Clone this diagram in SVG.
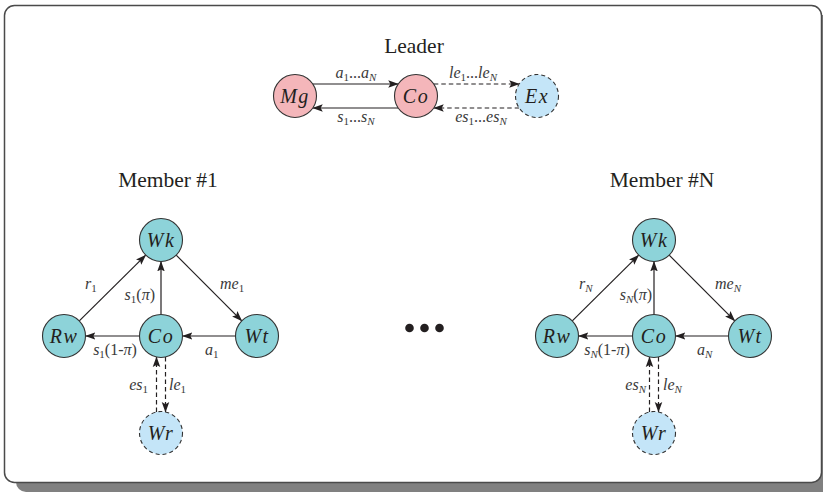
<svg xmlns="http://www.w3.org/2000/svg" width="823" height="496" viewBox="0 0 823 496">
  <style>
    text { fill: #231f20; font-family: "Liberation Serif", "Times New Roman", serif; }
    .title { font-size: 21.5px; text-anchor: middle; }
    .node { font-size: 20px; font-style: italic; text-anchor: middle; letter-spacing: 1.5px; }
    .el { font-size: 16px; font-style: italic; fill: #3a3a3a; }
    .sub { font-size: 11px; }
    .up { font-style: normal; }
    .edge { stroke: #231f20; stroke-width: 1.2; fill: none; }
    .dash { stroke-dasharray: 4.5 3; }
    circle.n { stroke: #333; stroke-width: 1.1; }
    .pink { fill: #f4b6ba; }
    .teal { fill: #8dd3d9; }
    .ext { fill: #c4e5f8; stroke-dasharray: 4 3; }
  </style>
  <defs>
    <marker id="tip" viewBox="0 0 10 8" refX="9.5" refY="4" markerWidth="10.5" markerHeight="8.4" markerUnits="userSpaceOnUse" orient="auto">
      <path d="M0,0.4 L10,4 L0,7.6 L2,4 z" fill="#231f20"/>
    </marker>
  </defs>

  <!-- frame with drop shadow -->
  <rect x="16" y="15" width="817" height="477" rx="10" fill="#808080"/>
  <rect x="4.5" y="5.5" width="817" height="477" rx="10" fill="#fff" stroke="#4a4a4a" stroke-width="1.5"/>

  <!-- titles -->
  <text class="title" x="414" y="53">Leader</text>
  <text class="title" x="168" y="187">Member #1</text>
  <text class="title" x="662" y="187">Member #N</text>

  <!-- connectors -->
  <g id="connectors">
    <!-- leader -->
    <line class="edge" x1="312.8" y1="84" x2="398.2" y2="84" marker-end="url(#tip)"/>
    <line class="edge" x1="398.2" y1="108" x2="312.8" y2="108" marker-end="url(#tip)"/>
    <line class="edge dash" x1="433.8" y1="84" x2="519.2" y2="84" marker-end="url(#tip)"/>
    <line class="edge dash" x1="519.2" y1="108" x2="433.8" y2="108" marker-end="url(#tip)"/>
    <!-- member 1 -->
    <g id="m1-edges">
      <line class="edge" x1="79.3" y1="320.9" x2="145.7" y2="255.1" marker-end="url(#tip)"/>
      <line class="edge" x1="161" y1="314.5" x2="161" y2="261.5" marker-end="url(#tip)"/>
      <line class="edge" x1="176.2" y1="255.2" x2="241.8" y2="320.8" marker-end="url(#tip)"/>
      <line class="edge" x1="139.5" y1="336" x2="85.5" y2="336" marker-end="url(#tip)"/>
      <line class="edge" x1="235.5" y1="336" x2="182.5" y2="336" marker-end="url(#tip)"/>
      <line class="edge dash" x1="156.5" y1="412" x2="156.5" y2="357" marker-end="url(#tip)"/>
      <line class="edge dash" x1="165.5" y1="357" x2="165.5" y2="412" marker-end="url(#tip)"/>
    </g>
    <!-- member N -->
    <g id="mN-edges" transform="translate(493,0)">
      <line class="edge" x1="79.3" y1="320.9" x2="145.7" y2="255.1" marker-end="url(#tip)"/>
      <line class="edge" x1="161" y1="314.5" x2="161" y2="261.5" marker-end="url(#tip)"/>
      <line class="edge" x1="176.2" y1="255.2" x2="241.8" y2="320.8" marker-end="url(#tip)"/>
      <line class="edge" x1="139.5" y1="336" x2="85.5" y2="336" marker-end="url(#tip)"/>
      <line class="edge" x1="235.5" y1="336" x2="182.5" y2="336" marker-end="url(#tip)"/>
      <line class="edge dash" x1="156.5" y1="412" x2="156.5" y2="357" marker-end="url(#tip)"/>
      <line class="edge dash" x1="165.5" y1="357" x2="165.5" y2="412" marker-end="url(#tip)"/>
    </g>
  </g>

  <!-- connector labels -->
  <g id="labels">
    <text class="el" x="356" y="78" text-anchor="middle">a<tspan class="sub up" dy="3">1</tspan><tspan class="up" dy="-3">...</tspan>a<tspan class="sub" dy="3">N</tspan></text>
    <text class="el" x="356" y="122" text-anchor="middle">s<tspan class="sub up" dy="3">1</tspan><tspan class="up" dy="-3">...</tspan>s<tspan class="sub" dy="3">N</tspan></text>
    <text class="el" x="473" y="78" text-anchor="middle">le<tspan class="sub up" dy="3">1</tspan><tspan class="up" dy="-3">...</tspan>le<tspan class="sub" dy="3">N</tspan></text>
    <text class="el" x="481" y="122" text-anchor="middle">es<tspan class="sub up" dy="3">1</tspan><tspan class="up" dy="-3">...</tspan>es<tspan class="sub" dy="3">N</tspan></text>

    <text class="el" x="85" y="289">r<tspan class="sub up" dy="3">1</tspan></text>
    <text class="el" x="155" y="300" text-anchor="end">s<tspan class="sub up" dy="3">1</tspan><tspan class="up" dy="-3">(</tspan>π<tspan class="up">)</tspan></text>
    <text class="el" x="220" y="289">me<tspan class="sub up" dy="3">1</tspan></text>
    <text class="el" x="115" y="355" text-anchor="middle">s<tspan class="sub up" dy="3">1</tspan><tspan class="up" dy="-3">(1-</tspan>π<tspan class="up">)</tspan></text>
    <text class="el" x="205" y="355">a<tspan class="sub up" dy="3">1</tspan></text>
    <text class="el" x="148" y="390" text-anchor="end">es<tspan class="sub up" dy="3">1</tspan></text>
    <text class="el" x="169" y="390">le<tspan class="sub up" dy="3">1</tspan></text>

    <text class="el" x="579" y="289">r<tspan class="sub" dy="3">N</tspan></text>
    <text class="el" x="652" y="300" text-anchor="end">s<tspan class="sub" dy="3">N</tspan><tspan class="up" dy="-3">(</tspan>π<tspan class="up">)</tspan></text>
    <text class="el" x="715" y="289">me<tspan class="sub" dy="3">N</tspan></text>
    <text class="el" x="607" y="355" text-anchor="middle">s<tspan class="sub" dy="3">N</tspan><tspan class="up" dy="-3">(1-</tspan>π<tspan class="up">)</tspan></text>
    <text class="el" x="697" y="355">a<tspan class="sub" dy="3">N</tspan></text>
    <text class="el" x="646" y="390" text-anchor="end">es<tspan class="sub" dy="3">N</tspan></text>
    <text class="el" x="663" y="390">le<tspan class="sub" dy="3">N</tspan></text>
  </g>

  <!-- leader nodes -->
  <g id="leader-mg"><circle class="n pink" cx="295" cy="96" r="21.5"/><text class="node" x="295" y="102.5">Mg</text></g>
  <g id="leader-co"><circle class="n pink" cx="416" cy="96" r="21.5"/><text class="node" x="416" y="102.5">Co</text></g>
  <g id="leader-ex"><circle class="n ext" cx="537" cy="96" r="21.5"/><text class="node" x="537" y="102.5">Ex</text></g>

  <!-- member 1 nodes -->
  <g id="m1-wk"><circle class="n teal" cx="161" cy="240" r="21.5"/><text class="node" x="161" y="246.5">Wk</text></g>
  <g id="m1-rw"><circle class="n teal" cx="64" cy="336" r="21.5"/><text class="node" x="64" y="342.5">Rw</text></g>
  <g id="m1-co"><circle class="n teal" cx="161" cy="336" r="21.5"/><text class="node" x="161" y="342.5">Co</text></g>
  <g id="m1-wt"><circle class="n teal" cx="257" cy="336" r="21.5"/><text class="node" x="257" y="342.5">Wt</text></g>
  <g id="m1-wr"><circle class="n ext" cx="161" cy="433" r="21.5"/><text class="node" x="161" y="439.5">Wr</text></g>

  <!-- member N nodes -->
  <g id="mN-wk"><circle class="n teal" cx="654" cy="240" r="21.5"/><text class="node" x="654" y="246.5">Wk</text></g>
  <g id="mN-rw"><circle class="n teal" cx="557" cy="336" r="21.5"/><text class="node" x="557" y="342.5">Rw</text></g>
  <g id="mN-co"><circle class="n teal" cx="654" cy="336" r="21.5"/><text class="node" x="654" y="342.5">Co</text></g>
  <g id="mN-wt"><circle class="n teal" cx="750" cy="336" r="21.5"/><text class="node" x="750" y="342.5">Wt</text></g>
  <g id="mN-wr"><circle class="n ext" cx="654" cy="433" r="21.5"/><text class="node" x="654" y="439.5">Wr</text></g>

  <!-- ellipsis between members -->
  <g id="ellipsis" fill="#231f20">
    <circle cx="409.5" cy="328" r="4.3"/>
    <circle cx="424.5" cy="328" r="4.3"/>
    <circle cx="439.5" cy="328" r="4.3"/>
  </g>
</svg>
